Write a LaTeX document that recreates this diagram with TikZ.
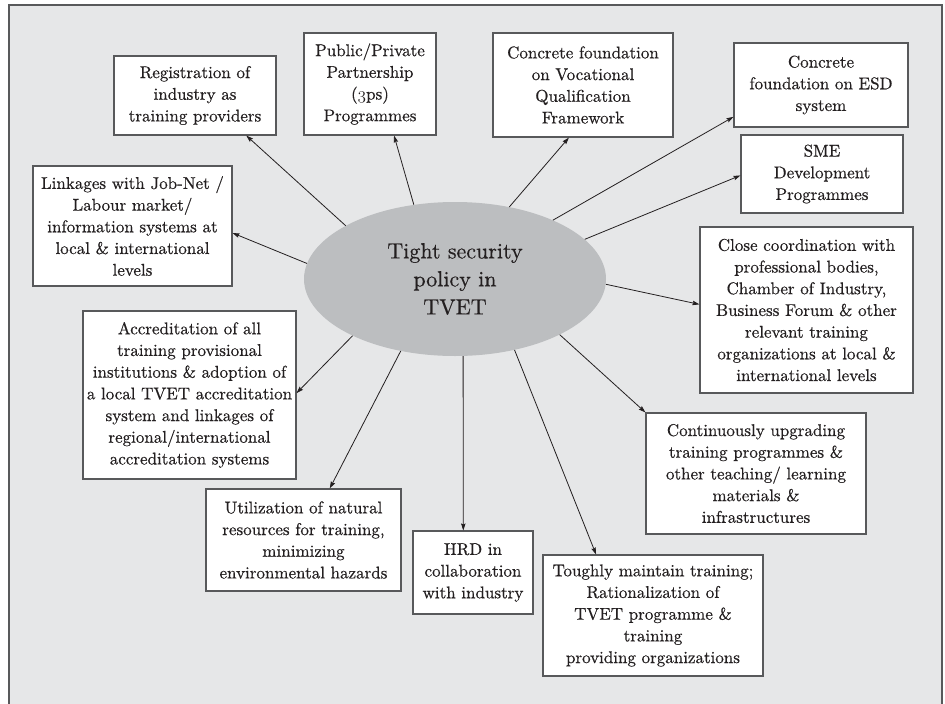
\documentclass[tikz,border=0pt]{standalone}
\usepackage{fontspec}
\setmainfont{lmroman10-regular.otf}[FakeBold=0.5]
\usepackage{tikz}
\usetikzlibrary{shapes,arrows.meta,positioning}
\definecolor{bg}{HTML}{E6E7E8}
\definecolor{hubgray}{HTML}{BCBEC0}
\definecolor{ink}{HTML}{231F20}
\definecolor{edge}{HTML}{58595B}

\begin{document}
\begin{tikzpicture}[x=1pt, y=-1pt,
    box/.style={draw=edge, line width=1.1pt, fill=white, align=center, inner sep=2pt,
        text=ink, font=\fontsize{17}{21.7}\selectfont},
    hub/.style={ellipse, fill=hubgray, minimum width=302pt, minimum height=154pt,
        inner sep=0pt, align=center, text=ink, font=\fontsize{22}{28}\selectfont},
    link/.style={->, draw=ink, line width=0.8pt},
    >={Stealth[length=7pt,width=4.5pt,inset=1pt]}]
    \useasboundingbox (0,0) rectangle (945,704);
    \fill[white] (0,0) rectangle (945,704);
    \draw[edge, line width=1.4pt, fill=bg] (9,5) rectangle (942,715);

    % centre
    \node[hub] (tvet) at (455,279) {Tight security\\policy in\\TVET};

    % upper row
    \node[box, minimum width=162pt, minimum height=79pt] (reg) at (195,95.5)
        {Registration of\\industry as\\training providers};
    \node[box, minimum width=132pt, minimum height=102pt] (pp) at (370,84)
        {Public/Private\\Partnership\\(\legacyoldstylenums{3}ps)\\Programmes};
    \node[box, minimum width=180pt, minimum height=104pt] (vqf) at (583,85)
        {Concrete foundation\\on Vocational\\Qualification\\Framework};
    \node[box, minimum width=174pt, minimum height=84pt] (esd) at (821,85)
        {Concrete\\foundation on ESD\\system};
    \node[box, minimum width=162pt, minimum height=78pt] (sme) at (822,174)
        {SME\\Development\\Programmes};

    % right side
    \node[box, minimum width=213pt, minimum height=166pt] (close) at (806.5,310)
        {Close coordination with\\professional bodies,\\Chamber of Industry,\\Business Forum \& other\\relevant training\\organizations at local \&\\international levels};
    \node[box, minimum width=220pt, minimum height=121pt] (cont) at (756,473.5)
        {Continuously upgrading\\training programmes \&\\other teaching/ learning\\materials \&\\infrastructures};

    % lower row
    \node[box, minimum width=220pt, minimum height=121pt] (tough) at (653,615.5)
        {Toughly maintain training;\\Rationalization of\\TVET programme \&\\training\\providing organizations};
    \node[box, minimum width=120pt, minimum height=83pt] (hrd) at (473,572.5)
        {HRD in\\collaboration\\with industry};
    \node[box, minimum width=195pt, minimum height=102pt] (util) at (303.5,540)
        {Utilization of natural\\resources for training,\\minimizing\\environmental hazards};

    % left side
    \node[box, minimum width=213pt, minimum height=168pt] (acc) at (189.5,395)
        {Accreditation of all\\training provisional\\institutions \& adoption of\\a local TVET accreditation\\system and linkages of\\regional/international\\accreditation systems};
    \node[box, minimum width=199pt, minimum height=120pt] (link) at (132.5,226)
        {Linkages with Job-Net /\\Labour market/\\information systems at\\local \& international\\levels};

    % connectors
    \draw[link] (tvet.154) -- (reg.-38);
    \draw[link] (tvet.119) -- (pp.-65);
    \draw[link] (tvet.53) -- (vqf.-105);
    \draw[link] (tvet.31) -- (esd.200);
    \draw[link] (tvet.17.5) -- (sme.181);
    \draw[link] (tvet.-2) -- (close.177);
    \draw[link] (tvet.-28.5) -- (cont.north west);
    \draw[link] (tvet.-50) -- (tough.133);
    \draw[link] (tvet.-84) -- (hrd.103);
    \draw[link] (tvet.-127) -- (util.63);
    \draw[link] (tvet.-151) -- (acc.1);
    \draw[link] (tvet.174) -- (link.-4);
\end{tikzpicture}
\end{document}
